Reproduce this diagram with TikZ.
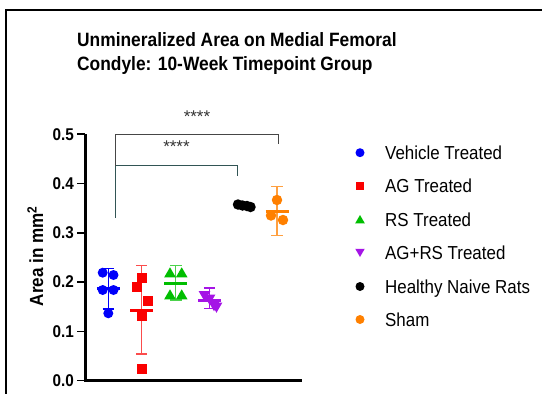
\documentclass[tikz,border=0pt]{standalone}
\usepackage{fontspec}
\setmainfont{Liberation Sans}
\newfontfamily\condsans[FakeStretch=0.9]{Liberation Sans}
\usetikzlibrary{shapes.geometric,positioning}

\definecolor{vehblue}{RGB}{0,0,250}
\definecolor{agred}{RGB}{250,0,0}
\definecolor{rsgreen}{RGB}{0,190,0}
\definecolor{combopurple}{RGB}{165,20,230}
\definecolor{shamorange}{RGB}{255,128,0}
\definecolor{brgray}{RGB}{70,70,70}
\definecolor{brteal}{RGB}{50,85,85}

\begin{document}
\begin{tikzpicture}[x=1pt,y=-1pt,
  title/.style={font=\condsans\fontsize{19.3}{23}\selectfont\bfseries,anchor=base west,inner sep=0pt},
  ticklab/.style={font=\condsans\fontsize{17}{20}\selectfont\bfseries,anchor=east,inner sep=0pt},
  axlab/.style={font=\condsans\fontsize{19}{22}\selectfont\bfseries,anchor=base,rotate=90,inner sep=0pt},
  legtext/.style={font=\condsans\fontsize{18.8}{22}\selectfont,anchor=base west,inner sep=0pt},
  stars/.style={font=\fontsize{17}{20}\selectfont,anchor=base,inner sep=0pt,text=black!80},
  axisline/.style={line width=3pt},
  meanbar/.style={line width=3pt},
  errbar/.style={line width=1.3pt},
  bracket/.style={line width=1pt},
  circmark/.style={circle,fill=#1,inner sep=0pt,minimum size=10pt},
  sqmark/.style={rectangle,fill=#1,inner sep=0pt,minimum size=10pt},
  upmark/.style={regular polygon,regular polygon sides=3,fill=#1,inner sep=0pt,minimum size=13.5pt},
  downmark/.style={upmark=#1,shape border rotate=180},
]
\useasboundingbox (0,0) rectangle (542,394);

% Frame
\draw[line width=2pt] (6,394) -- (6,9.5) -- (542,9.5);

% Title
\node[title] (title1) at (77,46.2) {Unmineralized Area on Medial Femoral};
\node[title] (title2) at (77,70.9) {Condyle: 10-Week Timepoint Group};

% Axes
\draw[axisline] (85,134.2) -- (85,380.7) -- (302,380.7);
\foreach \v in {0,...,5}{
  \draw[line width=1.5pt] (77,380.7-49.3*\v) -- (85,380.7-49.3*\v);
  \node[ticklab] (tick\v) at (74,380.7-49.3*\v) {0.\v};
}
\node[axlab] (ylab) at (43,256) {Area in mm\textsuperscript{2}};

% Significance brackets
\coordinate (legL) at (115.7,217.5);
\coordinate (innerL) at (115.7,165.7);
\coordinate (innerR) at (237.5,165.7);
\coordinate (innerE) at (237.5,176);
\coordinate (outerL) at (115.7,134.4);
\coordinate (outerR) at (278.7,134.4);
\coordinate (outerE) at (278.7,144.3);
\draw[bracket,brteal] (legL) -- (innerL) -- (innerR) -- (innerE);
\draw[bracket,brgray] (innerL) -- (outerL) -- (outerR) -- (outerE);
\node[stars] (sigouter) at (197,122.6) {****};
\node[stars] (siginner) at (176.5,152.6) {****};

% Error bars (SD)
\draw[errbar,vehblue] (108.3,268.3) -- (108.3,309)
  (102.5,268.3) -- (114.1,268.3) (102.5,309) -- (114.1,309);
\draw[errbar,agred!70] (141.7,265.7) -- (141.7,354)
  (136,265.7) -- (147.4,265.7) (136,354) -- (147.4,354);
\draw[errbar,rsgreen!70] (175.8,265.7) -- (175.8,300)
  (170,265.7) -- (181.6,265.7) (170,300) -- (181.6,300);
\draw[errbar,combopurple] (209.5,288) -- (209.5,308.3)
  (203.8,288) -- (215.2,288) (203.8,308.3) -- (215.2,308.3);
\draw[errbar,shamorange!75] (277,186.7) -- (277,235.7)
  (271.2,186.7) -- (282.8,186.7) (271.2,235.7) -- (282.8,235.7);

% Data points
\foreach \px/\py [count=\i] in {102.7/272.7,113.5/275,102.7/290,113.5/290,108.3/313.3}
  \node[circmark=vehblue] (veh\i) at (\px,\py) {};
\foreach \px/\py [count=\i] in {141.7/278.3,136.7/286.7,147.7/300.7,142.3/315.8,142/368.7}
  \node[sqmark=agred] (ag\i) at (\px,\py) {};
\foreach \px/\py [count=\i] in {170/274,181.7/274,170/296,181.7/296}
  \node[upmark=rsgreen] (rs\i) at (\px,\py) {};
\foreach \px/\py [count=\i] in {204.5/294.5,209.5/298,214/304.5,216.5/306}
  \node[downmark=combopurple] (agrs\i) at (\px,\py) {};
\foreach \px/\py [count=\i] in {238/204.5,242.5/205.5,247/206,250.5/207}
  \node[circmark=black,minimum size=10.5pt] (naive\i) at (\px,\py) {};
\foreach \px/\py [count=\i] in {277/200,271/215.5,283/220}
  \node[circmark=shamorange,minimum size=10.5pt] (sham\i) at (\px,\py) {};

% Group means
\draw[meanbar,vehblue] (96.8,288.3) -- (119.8,288.3);
\draw[meanbar,agred] (130.2,310.3) -- (153.2,310.3);
\draw[meanbar,rsgreen] (164.3,283.3) -- (187.3,283.3);
\draw[meanbar,combopurple] (198.3,300.5) -- (220.7,300.5);
\draw[meanbar,shamorange] (265.7,211.7) -- (289,211.7);

% Legend
\node[circmark=vehblue,minimum size=9pt] (legveh) at (360,152.7) {};
\node[sqmark=agred,minimum size=8.5pt] (legag) at (360,186) {};
\node[upmark=rsgreen,minimum size=11pt] (legrs) at (360,220.5) {};
\node[downmark=combopurple,minimum size=11pt] (legagrs) at (360,251.5) {};
\node[circmark=black,minimum size=9pt] (legnaive) at (360,286.5) {};
\node[circmark=shamorange,minimum size=9pt] (legsham) at (360,319.5) {};
\foreach \lab [count=\i] in {Vehicle Treated,AG Treated,RS Treated,AG+RS Treated,Healthy Naive Rats,Sham}
  \node[legtext] (leg\i) at (385,159.4+33.4*\i-33.4) {\lab};

\end{tikzpicture}
\end{document}
